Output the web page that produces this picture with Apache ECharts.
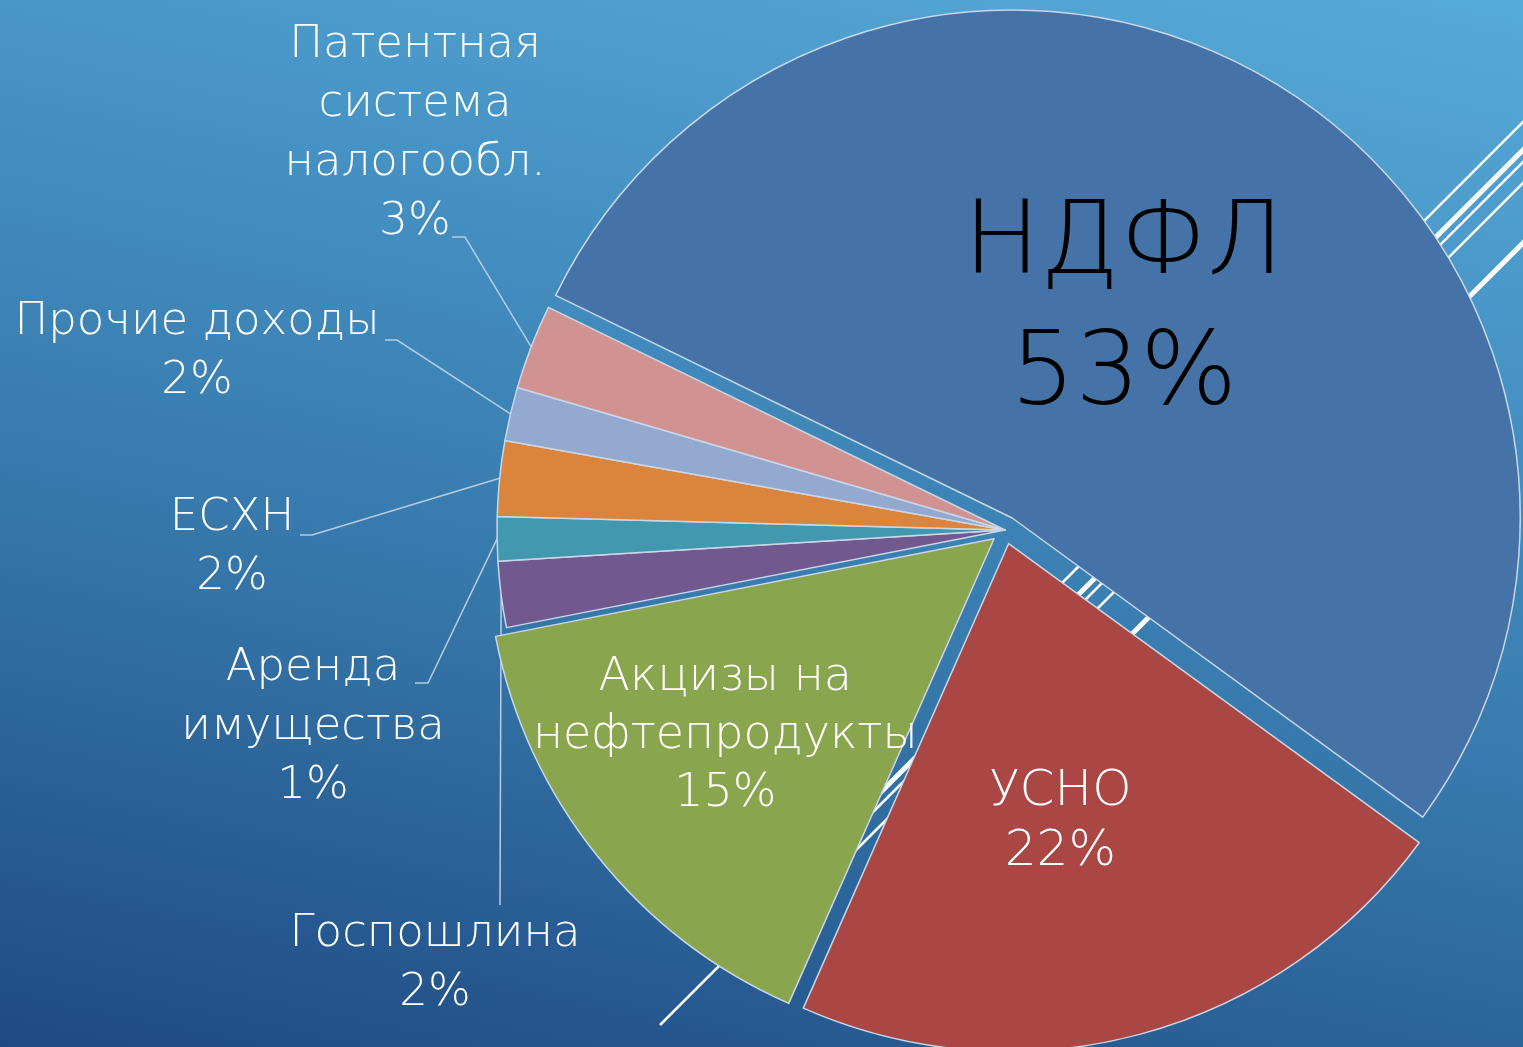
<!DOCTYPE html>
<html>
<head>
<meta charset="utf-8">
<script src="https://cdn.jsdelivr.net/npm/echarts@6/dist/echarts.min.js"></script>
<style>
  html, body { margin: 0; padding: 0; overflow: hidden; }
  #main {
    width: 1523px;
    height: 1047px;
    background: linear-gradient(192deg, #57abd8 0%, #4591c3 30%, #3677aa 60%, #1e4a82 100%);
  }
</style>
</head>
<body>
<div id="main"></div>
<script>
// доли налоговых доходов, %
var categories = ['НДФЛ', 'УСНО', 'Акцизы на\nнефтепродукты', 'Госпошлина', 'Аренда\nимущества', 'ЕСХН', 'Прочие доходы', 'Патентная\nсистема\nналогообл.'];
var values = [52.8, 21.6, 15.3, 2.1, 1.4, 2.4, 1.7, 2.7];
var exploded = [true, true, true, false, false, false, false, false];

var palette = ['#4572a7', '#aa4643', '#89a54e', '#71588f', '#4198af', '#db843d', '#93a9cf', '#d19392'];
var FONT = "'DejaVu Sans', sans-serif";

// выносные подписи: центр блока и изгиб линии
var labelPos = [
  null,
  null,
  null,
  { x: 435, y: 964, line: [[500, 905], [500, 905]] },
  { x: 313, y: 727, line: [[428, 683], [415, 683]] },
  { x: 232, y: 548, line: [[312, 535], [300, 535]] },
  { x: 197, y: 352, line: [[397, 340], [385, 340]] },
  { x: 415, y: 134, line: [[465, 237], [452, 237]] }
];

var myChart = echarts.init(document.getElementById('main'), null, { renderer: 'canvas' });

var data = categories.map(function (name, i) {
  var item = {
    name: name,
    value: values[i],
    selected: exploded[i],
    itemStyle: { color: palette[i] },
    select: { itemStyle: { color: palette[i], borderColor: '#c9d7e8', borderWidth: 1.5 } }
  };
  // у выдвинутых секторов x/y подписи не задаются, поэтому сдвиг паддингом
  if (i === 0) {
    item.label = { position: 'inside', color: '#000', fontSize: 102, lineHeight: 131, padding: [-117, 42, 0, 0] };
    item.labelLine = { show: false };
  } else if (i === 1) {
    item.label = { position: 'inside', fontSize: 50, lineHeight: 60, padding: [-30, 30, 0, 0] };
    item.labelLine = { show: false };
  } else if (i === 2) {
    item.label = { position: 'inside', fontSize: 46, lineHeight: 58, padding: [-50, 136, 0, 0] };
    item.labelLine = { show: false };
  }
  return item;
});

// декоративные линии слайда (под диаграммой)
var deco = [
  { c: 1645, w: 2.5, endX: 1000 },
  { c: 1673, w: 5, endX: 880 },
  { c: 1685, w: 2.5, endX: 660 },
  { c: 1706, w: 2.5, endX: 850 },
  { c: 1766, w: 5, endX: 1000 }
];

var option = {
  animation: false,
  graphic: deco.map(function (d) {
    return {
      type: 'line',
      z: 0,
      silent: true,
      shape: { x1: 1600, y1: d.c - 1600, x2: d.endX, y2: d.c - d.endX },
      style: { stroke: '#ffffff', lineWidth: d.w }
    };
  }),
  series: [
    {
      type: 'pie',
      z: 2,
      center: [1005, 530],
      radius: 508,
      startAngle: 154,
      clockwise: true,
      selectedMode: 'multiple',
      selectedOffset: 14,
      avoidLabelOverlap: false,
      emphasis: { disabled: true },
      itemStyle: { borderColor: '#c9d7e8', borderWidth: 1.5 },
      label: {
        show: true,
        position: 'outside',
        color: '#ffffff',
        fontFamily: FONT,
        fontWeight: 200,
        fontSize: 45,
        lineHeight: 59,
        align: 'center',
        formatter: function (p) {
          return p.name + '\n' + Math.round(p.percent) + '%';
        }
      },
      labelLine: {
        show: true,
        smooth: false,
        lineStyle: { color: '#b7cce0', width: 1.5 }
      },
      labelLayout: function (p) {
        var pos = labelPos[p.dataIndex];
        if (!pos) return { align: 'center', verticalAlign: 'top' };
        var out = { x: pos.x, y: pos.y, align: 'center', verticalAlign: 'middle' };
        if (p.labelLinePoints) {
          out.labelLinePoints = [p.labelLinePoints[0]].concat(pos.line);
        }
        return out;
      },
      data: data
    }
  ]
};

myChart.setOption(option);
</script>
</body>
</html>
